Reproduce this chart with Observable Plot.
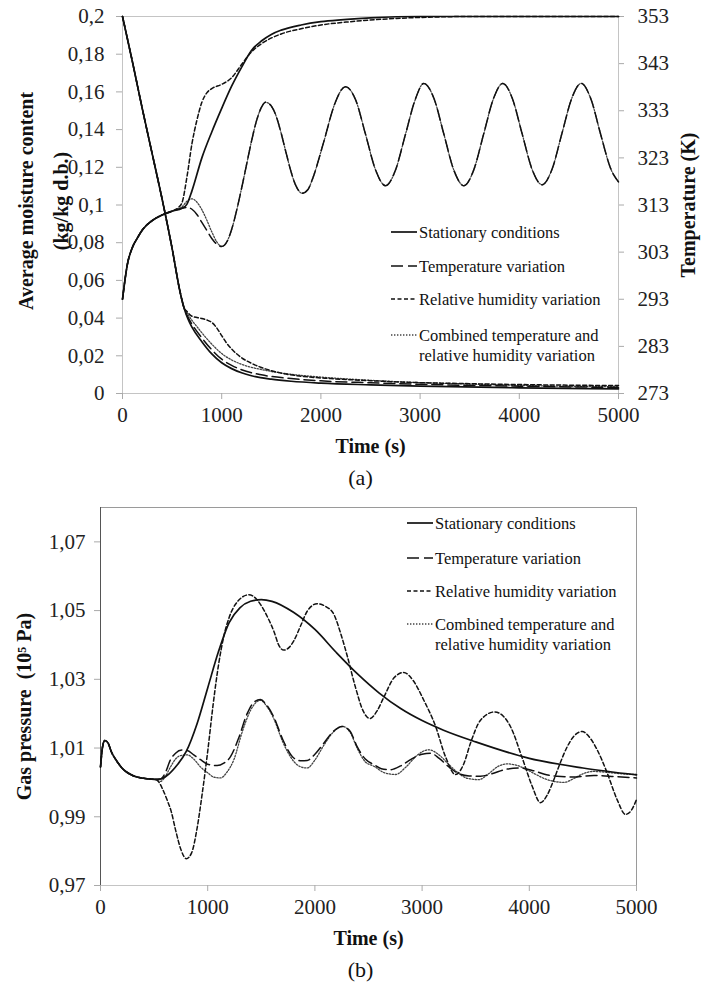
<!DOCTYPE html>
<html><head><meta charset="utf-8">
<script src="https://cdn.jsdelivr.net/npm/d3@7"></script>
<script src="https://cdn.jsdelivr.net/npm/@observablehq/plot@0.6"></script>
<style>
body{margin:0;background:#fff;}
#wrap{width:702px;height:984px;}
svg{display:block;}
</style></head><body><div id="wrap"></div>
<script>
// ---------- Panel (a): moisture content [time s, kg/kg d.b.] ----------
const mSharedFall = [[0,0.2],[100,0.176],[200,0.151],[300,0.127],[400,0.103],[500,0.077],[580,0.054],[620,0.0455]];
const mStationary = mSharedFall.concat([[660,0.0395],[700,0.0352],[800,0.0275],[900,0.021],[1000,0.0163],[1100,0.0132],[1200,0.011],[1300,0.0094],[1500,0.0076],[1700,0.0065],[2000,0.0055],[2500,0.0046],[3000,0.0039],[4000,0.003],[5000,0.0025]]);
const mTempVar = mSharedFall.concat([[660,0.0405],[700,0.0368],[800,0.0295],[900,0.0232],[1000,0.0182],[1100,0.0149],[1200,0.0126],[1400,0.0099],[1700,0.0079],[2000,0.0067],[2500,0.0057],[3000,0.0049],[4000,0.0039],[5000,0.0032]]);
const mRH = mSharedFall.concat([[650,0.0435],[700,0.041],[800,0.0398],[850,0.039],[900,0.0377],[950,0.0348],[1000,0.0307],[1050,0.0267],[1100,0.0236],[1200,0.019],[1300,0.016],[1400,0.0138],[1600,0.0108],[1800,0.0092],[2100,0.0079],[2500,0.0068],[2800,0.0061],[3500,0.0052],[4200,0.0046],[5000,0.0042]]);
const mCombined = mSharedFall.concat([[660,0.042],[700,0.0388],[750,0.0355],[800,0.0322],[900,0.0262],[1000,0.0212],[1100,0.0178],[1200,0.0155],[1450,0.0122],[1700,0.0102],[2000,0.0087],[2400,0.0073],[2800,0.0062],[3500,0.005],[4200,0.0041],[5000,0.0036]]);

// ---------- Panel (a): temperature [time s, K] ----------
const tSharedRise = [[0,293],[50,300.5],[100,304],[150,306],[200,307.7],[300,309.7],[400,310.9],[500,311.7]];
const tStationary = tSharedRise.concat([[600,312.3],[650,313.2],[700,316],[800,323],[900,328.5],[1000,333.5],[1100,338.2],[1200,342.2],[1300,345.8],[1400,347.8],[1500,349.2],[1600,350.1],[1800,351.2],[2000,351.9],[2200,352.3],[2500,352.7],[3000,353],[5000,353]]);
const tRH = tSharedRise.concat([[560,312.4],[600,313.5],[650,319],[700,326],[750,331],[800,334.8],[850,336.8],[900,337.7],[1000,338.6],[1100,340],[1200,342.8],[1300,345.5],[1400,347.2],[1600,349.3],[1800,350.4],[2000,351.2],[2300,351.9],[2600,352.4],[3000,352.8],[3500,353],[5000,353]]);
const tOscillation = [[1050,305.1],[1100,307.8],[1150,311.8],[1200,316.5],[1250,321.5],[1300,326.5],[1350,330.8],[1400,333.7],[1442,334.8],[1500,334],[1550,331.8],[1600,328.2],[1650,324],[1700,320],[1750,317],[1811,315.5],[1870,316.3],[1920,318.8],[2030,326.5],[2140,334.5],[2248,338.1],[2350,335.3],[2450,328],[2550,320.5],[2652,317.1],[2750,320.3],[2850,327.8],[2950,335.3],[3037,338.8],[3140,335.6],[3240,328],[3340,320.4],[3441,317.1],[3540,320.4],[3640,328],[3740,335.6],[3834,338.8],[3930,335.6],[4030,328],[4130,320.5],[4230,317.3],[4330,320.6],[4430,328.2],[4530,335.7],[4624,338.8],[4720,335.6],[4820,328],[4920,320.8],[5000,317.9]];
const tTempVar = tSharedRise.concat([[600,312.3],[650,312.5],[700,312.1],[750,311],[800,309.3],[850,307.6],[900,305.9],[950,304.7],[1000,304.2]], tOscillation);
const tCombined = tSharedRise.concat([[600,312.6],[650,313.8],[700,314.3],[750,313.6],[800,312],[850,309.8],[900,307.3],[950,305.2],[1000,304.2]], tOscillation);

// ---------- Panel (b): gas pressure [time s, 10^5 Pa] ----------
const pSharedStart = [[0,1.0045],[20,1.0105],[40,1.0122],[70,1.0115],[100,1.009],[150,1.0063],[200,1.0042],[300,1.002],[400,1.0012],[500,1.0009]];
const pStationary = pSharedStart.concat([[560,1.001],[620,1.002],[700,1.0045],[800,1.009],[900,1.017],[1000,1.0275],[1100,1.038],[1200,1.0465],[1300,1.0508],[1400,1.0527],[1500,1.0532],[1600,1.0527],[1800,1.0495],[2000,1.0445],[2200,1.0378],[2400,1.0315],[2600,1.026],[2800,1.0215],[3000,1.018],[3200,1.0152],[3500,1.0118],[4000,1.007],[4500,1.0042],[5000,1.0022]]);
const pRH = pSharedStart.concat([[530,1.0006],[580,0.998],[620,0.995],[660,0.9915],[700,0.9862],[750,0.9805],[800,0.9778],[850,0.9795],[900,0.9865],[950,0.997],[1000,1.009],[1050,1.0225],[1100,1.034],[1150,1.0425],[1200,1.048],[1275,1.0525],[1384,1.0546],[1450,1.0535],[1492,1.0518],[1560,1.048],[1617,1.044],[1665,1.0398],[1710,1.0385],[1760,1.0393],[1803,1.0412],[1870,1.0458],[1928,1.0498],[2021,1.052],[2100,1.0512],[2177,1.0489],[2239,1.0435],[2300,1.037],[2380,1.0275],[2450,1.0208],[2512,1.0186],[2580,1.0208],[2643,1.0248],[2740,1.0305],[2829,1.032],[2920,1.0295],[3016,1.0239],[3125,1.0164],[3218,1.0075],[3311,1.0023],[3390,1.0055],[3451,1.0114],[3545,1.0181],[3675,1.0205],[3760,1.0192],[3825,1.0162],[3934,1.0071],[4027,0.9989],[4104,0.9941],[4165,0.9962],[4229,1.0008],[4290,1.0058],[4354,1.0104],[4420,1.0136],[4493,1.0148],[4570,1.0128],[4633,1.0095],[4726,1.0028],[4819,0.995],[4897,0.9907],[4950,0.9918],[5000,0.995]]);
const pTempVar = pSharedStart.concat([[560,1.001],[600,1.0025],[653,1.0066],[700,1.0085],[760,1.0094],[809,1.0093],[870,1.008],[933,1.0066],[1000,1.0053],[1088,1.0049],[1150,1.0056],[1213,1.0075],[1290,1.013],[1368,1.02],[1430,1.0233],[1492,1.0241],[1550,1.0225],[1617,1.019],[1700,1.0125],[1803,1.0071],[1870,1.0063],[1928,1.0064],[2000,1.0082],[2083,1.0114],[2170,1.0148],[2255,1.0163],[2330,1.0148],[2394,1.0104],[2470,1.0068],[2550,1.0052],[2620,1.004],[2705,1.0037],[2800,1.0048],[2900,1.0068],[3000,1.0082],[3078,1.0085],[3160,1.007],[3250,1.0045],[3327,1.0028],[3440,1.0019],[3545,1.0018],[3650,1.0025],[3780,1.0038],[3918,1.0042],[4050,1.0033],[4160,1.0022],[4260,1.0018],[4400,1.0016],[4601,1.002],[4800,1.0017],[5000,1.0013]]);
const pCombined = pSharedStart.concat([[560,1.0003],[600,1.0015],[653,1.0045],[700,1.0068],[760,1.0079],[809,1.008],[870,1.0068],[933,1.0045],[1000,1.0028],[1060,1.0015],[1119,1.0013],[1180,1.003],[1244,1.0066],[1320,1.0145],[1400,1.021],[1492,1.0239],[1550,1.0222],[1617,1.0185],[1700,1.0118],[1803,1.0061],[1870,1.0045],[1928,1.0042],[2000,1.0065],[2083,1.0108],[2170,1.0146],[2255,1.0163],[2330,1.0145],[2394,1.01],[2470,1.006],[2550,1.0047],[2650,1.0028],[2752,1.0023],[2850,1.0045],[2950,1.0078],[3063,1.0095],[3150,1.0082],[3250,1.0052],[3327,1.003],[3420,1.0012],[3529,1.0008],[3620,1.0025],[3700,1.0045],[3794,1.0054],[3880,1.005],[3960,1.004],[4050,1.0025],[4150,1.001],[4250,1.0002],[4322,1.0],[4420,1.0012],[4500,1.0025],[4601,1.0032],[4700,1.003],[4800,1.0027],[4900,1.0024],[5000,1.0023]]);

// ---------- ticks and labels ----------
const timeTicks = [0,1000,2000,3000,4000,5000];
const moistureTicks = [0,0.02,0.04,0.06,0.08,0.1,0.12,0.14,0.16,0.18,0.2];
const temperatureTicks = [273,283,293,303,313,323,333,343,353];
const pressureTicks = [0.97,0.99,1.01,1.03,1.05,1.07];
const seriesNames = ["Stationary conditions","Temperature variation","Relative humidity variation","Combined temperature and\nrelative humidity variation"];

const styles = [
  {stroke:"#111", strokeWidth:1.7},
  {stroke:"#111", strokeWidth:1.5, strokeDasharray:"11,5"},
  {stroke:"#111", strokeWidth:1.5, strokeDasharray:"4,2.5"},
  {stroke:"#444", strokeWidth:1.3, strokeDasharray:"1.4,1.6"}
];

const serif = "'Liberation Serif','Times New Roman',serif";
const comma = d => String(+d.toFixed(2)).replace(".", ",");
const tToM = d3.scaleLinear([273,353],[0,0.2]);

function lines(seriesList, yMap) {
  return [3,1,2,0].map(i => Plot.line(seriesList[i], {
    x: d => d[0], y: d => yMap(d[1]), curve: "monotone-x", ...styles[i]
  }));
}

function addLegend(svg, x0, x1, tx, ys) {
  const g = d3.select(svg).append("g")
    .style("font-family", serif).style("font-size", "16.5px")
    .attr("fill", "#111").attr("text-anchor", "start");
  seriesNames.forEach((name, i) => {
    const s = styles[i];
    g.append("line").attr("x1", x0).attr("x2", x1).attr("y1", ys[i]).attr("y2", ys[i])
      .attr("stroke", s.stroke).attr("stroke-width", s.strokeWidth)
      .attr("stroke-dasharray", i === 1 ? "12,5" : (s.strokeDasharray || null));
    name.split("\n").forEach((ln, k) => {
      g.append("text").attr("x", tx).attr("y", ys[i] + k * 20).attr("dy", "0.35em")
        .attr("text-anchor", "start").text(ln);
    });
  });
}

const common = {
  width: 702, height: 492,
  style: {fontFamily: serif, fontSize: "20px", background: "#fff", color: "#222", overflow: "visible"}
};
const title = {fontWeight: "bold", fontSize: 20, fill: "#111", textAnchor: "middle", lineAnchor: "middle"};

// ---------- Panel (a) ----------
const chartA = Plot.plot({
  ...common,
  marginLeft: 122, marginRight: 84, marginTop: 16, marginBottom: 99,
  x: {domain: [0, 5000]},
  y: {domain: [0, 0.2]},
  marks: [
    Plot.frame({stroke: "#c4c4c4"}),
    Plot.axisY(moistureTicks, {anchor: "left", tickSize: 6, tickPadding: 12, tickFormat: comma, stroke: "#aaa", fill: "#222", fontSize: 21, label: null}),
    Plot.axisY(temperatureTicks.map(t => tToM(t)), {anchor: "right", tickSize: 5, tickPadding: 14, tickFormat: m => String(Math.round(tToM.invert(m))), stroke: "#aaa", fill: "#222", fontSize: 21, label: null}),
    Plot.axisX(timeTicks, {anchor: "bottom", tickSize: 6, tickPadding: 8, tickFormat: d => String(d), stroke: "#aaa", fill: "#222", fontSize: 21, label: null}),
    ...lines([mStationary, mTempVar, mRH, mCombined], v => v),
    ...lines([tStationary, tTempVar, tRH, tCombined], v => tToM(v)),
    Plot.text(["Time (s)"], {text: d => d, frameAnchor: "bottom", dy: 53, ...title}),
    Plot.text(["(a)"], {text: d => d, frameAnchor: "bottom", dx: -10, dy: 84, ...title, fontWeight: "normal", fontSize: 22}),
    Plot.text(["Average moisture content"], {text: d => d, frameAnchor: "left", dx: -96, dy: -4, rotate: -90, ...title}),
    Plot.text(["(kg/kg d.b.)"], {text: d => d, frameAnchor: "left", dx: -61, dy: -4, rotate: -90, ...title}),
    Plot.text(["Temperature (K)"], {text: d => d, frameAnchor: "right", dx: 70, rotate: -90, ...title})
  ]
});
addLegend(chartA, 391, 417, 419, [232, 266, 299, 335]);

// ---------- Panel (b) ----------
const chartB = Plot.plot({
  ...common,
  marginLeft: 100, marginRight: 66, marginTop: 15, marginBottom: 99,
  x: {domain: [0, 5000]},
  y: {domain: [0.97, 1.08]},
  marks: [
    Plot.frame({stroke: "#9a9a9a"}),
    Plot.ruleY([0.97], {stroke: "#c4c4c4"}),
    Plot.ruleX([0], {stroke: "#555"}),
    Plot.axisY(pressureTicks, {anchor: "left", tickSize: 6, tickPadding: 9, tickFormat: d => d.toFixed(2).replace(".", ","), stroke: "#aaa", fill: "#222", fontSize: 21, label: null}),
    Plot.axisX(timeTicks, {anchor: "bottom", tickSize: 6, tickPadding: 8, tickFormat: d => String(d), stroke: "#aaa", fill: "#222", fontSize: 21, label: null}),
    ...lines([pStationary, pTempVar, pRH, pCombined], v => v),
    Plot.text(["Time (s)"], {text: d => d, frameAnchor: "bottom", dy: 53, ...title}),
    Plot.text(["(b)"], {text: d => d, frameAnchor: "bottom", dx: -8, dy: 84, ...title, fontWeight: "normal", fontSize: 22}),
    Plot.text(["Gas pressure  (10⁵ Pa)"], {text: d => d, frameAnchor: "left", dx: -76, dy: 10, rotate: -90, ...title})
  ]
});
addLegend(chartB, 407, 433, 435, [523, 558, 591, 624].map(y => y - 492));

document.getElementById("wrap").append(chartA, chartB);
</script></body></html>
